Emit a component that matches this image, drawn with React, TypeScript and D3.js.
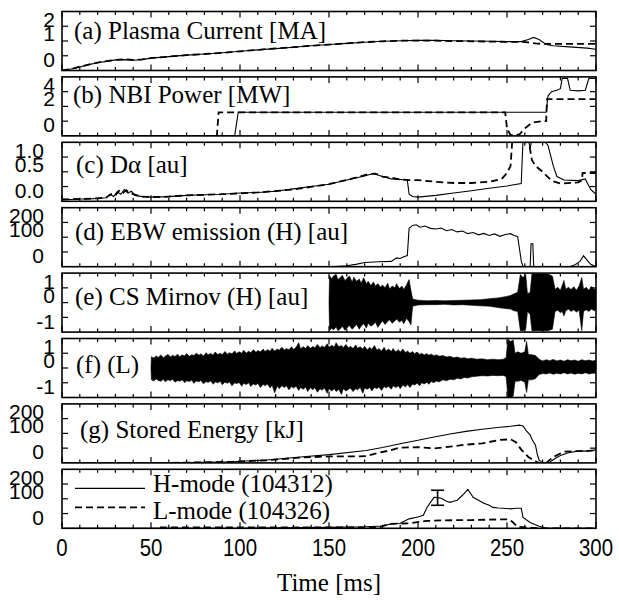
import React from 'react';
import * as d3 from 'd3';

// ---------- data ----------
const TIME_TICKS = [0, 50, 100, 150, 200, 250, 300];
const TIME_LABELS = ['0', '50', '100', '150', '200', '250', '300'];

// (a) Plasma current [MA]
const IP_H = [[0,0],[5,0.05],[10,0.12],[15,0.2],[20,0.26],[25,0.31],[30,0.36],[35,0.37],[40,0.35],[45,0.37],[50,0.42],[60,0.47],[70,0.52],[80,0.56],[90,0.6],[100,0.65],[110,0.7],[120,0.74],[130,0.79],[140,0.84],[150,0.88],[160,0.92],[170,0.96],[180,0.99],[190,1.01],[200,1.02],[210,1.02],[220,1.01],[230,1.0],[240,0.99],[250,0.98],[258,0.98],[262,1.05],[265,1.12],[268,1.05],[272,0.88],[276,0.84],[285,0.8],[295,0.76],[300,0.72]];
const IP_L = [[0,0],[5,0.05],[10,0.13],[15,0.2],[20,0.27],[25,0.32],[30,0.36],[35,0.38],[40,0.36],[45,0.38],[50,0.42],[60,0.47],[70,0.52],[80,0.56],[90,0.6],[100,0.65],[110,0.7],[120,0.75],[130,0.79],[140,0.84],[150,0.88],[160,0.92],[170,0.96],[180,0.99],[190,1.01],[200,1.01],[210,1.01],[220,1.0],[230,0.99],[240,0.98],[250,0.97],[258,0.97],[262,0.95],[266,0.92],[270,0.9],[300,0.9]];

// (b) NBI power [MW]
const NBI_H = [[0,0],[97,0],[99,1.6],[272,1.6],[273,2.7],[275,3.0],[278,3.1],[280,3.2],[281,3.9],[284,3.9],[285.5,3.1],[290,3.05],[294,3.1],[296,3.9],[300,3.9]];
const NBI_L = [[0,0],[87,0],[88,1.6],[249,1.6],[250,0.5],[252,0.05],[257,0.1],[260,0.5],[264,0.9],[270,1.0],[272,1.0],[272.5,2.5],[300,2.5]];

// (c) D-alpha [au]
const DA_H = [[0,0.04],[5,0.03],[10,0.04],[15,0.04],[20,0.05],[25,0.06],[27,0.12],[29,0.08],[31,0.16],[33,0.12],[35,0.2],[37,0.14],[39,0.17],[41,0.1],[45,0.08],[50,0.07],[60,0.08],[70,0.1],[80,0.11],[90,0.12],[100,0.14],[110,0.15],[120,0.17],[130,0.21],[140,0.25],[150,0.29],[160,0.36],[170,0.43],[175,0.47],[180,0.42],[185,0.38],[190,0.37],[194,0.36],[195,0.12],[197,0.08],[200,0.07],[210,0.1],[220,0.14],[230,0.18],[240,0.22],[250,0.26],[258,0.3],[259,1.05],[262,1.05],[263,0.9],[264,1.05],[270,1.05],[273,0.95],[276,0.6],[278,0.42],[282,0.36],[290,0.35],[294,0.38],[297,0.2],[300,0.12]];
const DA_L = [[0,0.03],[10,0.04],[20,0.05],[25,0.07],[28,0.13],[30,0.1],[32,0.18],[34,0.13],[36,0.19],[38,0.15],[40,0.12],[45,0.08],[55,0.07],[70,0.1],[90,0.12],[110,0.15],[130,0.2],[150,0.29],[165,0.4],[172,0.46],[176,0.47],[180,0.42],[185,0.4],[190,0.37],[195,0.36],[200,0.36],[210,0.33],[220,0.31],[230,0.31],[240,0.33],[247,0.38],[250,0.48],[252,0.6],[253,1.05],[255,1.05],[262,1.05],[264,0.7],[266,0.6],[270,0.5],[275,0.35],[280,0.3],[290,0.32],[292,0.35],[292.5,0.48],[300,0.48]];

// (d) EBW emission (H) [au]
const EBW_H = [[0,0],[150,0],[160,3],[165,8],[170,14],[178,17],[185,18],[188,30],[190,28],[192,34],[194,38],[195,130],[197,140],[199,142],[201,134],[204,138],[207,130],[210,128],[213,131],[216,122],[219,126],[222,118],[225,121],[228,112],[231,116],[234,108],[237,113],[240,106],[243,111],[246,103],[249,109],[252,112],[254,106],[256,102],[258,20],[259,0],[263,0],[263.5,78],[264.5,78],[265,0],[285,0],[288,6],[291,18],[293,37],[295,22],[297,8],[300,0]];

// (e) CS Mirnov (H): [time, upper envelope, lower envelope]
const MIR_H = [[150,0,0],[150.3,0.92,-0.95],[151.5,0.8,-0.86],[152.5,0.9,-0.93],[154,0.96,-0.82],[155,0.78,-0.95],[156.5,0.86,-0.88],[157.5,0.93,-0.8],[159,0.74,-0.94],[160,0.82,-0.86],[161.5,0.9,-0.78],[163,0.7,-0.9],[164,0.86,-0.84],[165.5,0.72,-0.74],[167,0.8,-0.9],[168,0.66,-0.8],[169.5,0.84,-0.72],[171,0.64,-0.86],[172,0.72,-0.7],[173.5,0.58,-0.8],[175,0.7,-0.74],[176,0.56,-0.66],[177.5,0.64,-0.84],[179,0.52,-0.7],[180,0.6,-0.62],[181.5,0.5,-0.74],[183,0.66,-0.64],[184,0.46,-0.58],[185.5,0.56,-0.7],[187,0.5,-0.62],[188,0.64,-0.56],[189.5,0.48,-0.66],[191,0.56,-0.6],[192,0.44,-0.72],[193.5,0.6,-0.54],[195,0.78,-0.64],[196,0.42,-0.76],[197,0.12,-0.12],[200,0.08,-0.08],[205,0.06,-0.07],[210,0.07,-0.07],[215,0.06,-0.06],[220,0.07,-0.08],[225,0.08,-0.07],[230,0.09,-0.09],[235,0.1,-0.11],[240,0.13,-0.12],[245,0.16,-0.17],[249,0.2,-0.2],[252,0.24,-0.22],[254,0.3,-0.28],[256,0.35,-0.3],[257.5,0.95,-0.95],[259,0.85,-0.95],[260.5,0.95,-0.9],[261.5,0.3,-0.3],[263,0.35,-0.4],[264,0.97,-0.95],[267,0.97,-0.95],[270,0.97,-0.95],[273,0.97,-0.95],[275.5,0.9,-0.9],[277,0.45,-0.3],[278.5,0.52,-0.26],[280,0.42,-0.34],[281,0.58,-0.3],[282,0.75,-0.45],[283,0.45,-0.28],[284.5,0.52,-0.22],[286,0.44,-0.3],[287.5,0.54,-0.24],[289,0.42,-0.32],[290.5,0.56,-0.26],[292,0.85,-0.95],[293,0.45,-0.3],[294.5,0.52,-0.24],[296,0.42,-0.3],[297.5,0.55,-0.22],[299,0.45,-0.28],[300,0.5,-0.25]];

// (f) Mirnov (L): [time, upper envelope, lower envelope]
const MIR_L = [[50,0,0],[50.2,0.38,-0.4],[51.5,0.34,-0.44],[53,0.41,-0.37],[54,0.36,-0.42],[55.5,0.44,-0.45],[57,0.35,-0.38],[58,0.4,-0.47],[59.5,0.46,-0.4],[61,0.37,-0.43],[62,0.43,-0.38],[63.5,0.39,-0.48],[65,0.47,-0.42],[66,0.38,-0.45],[67.5,0.44,-0.4],[69,0.41,-0.5],[70,0.49,-0.43],[71.5,0.4,-0.46],[73,0.45,-0.41],[74,0.42,-0.52],[75.5,0.5,-0.44],[77,0.43,-0.47],[78,0.48,-0.42],[79.5,0.41,-0.53],[81,0.52,-0.46],[82,0.45,-0.49],[83.5,0.49,-0.44],[85,0.44,-0.55],[86,0.54,-0.47],[87.5,0.46,-0.5],[89,0.5,-0.45],[90,0.45,-0.57],[91.5,0.56,-0.48],[93,0.47,-0.52],[94,0.52,-0.47],[95.5,0.48,-0.6],[97,0.58,-0.5],[98,0.49,-0.53],[99.5,0.55,-0.49],[101,0.5,-0.62],[102,0.6,-0.52],[103.5,0.51,-0.56],[105,0.57,-0.5],[106,0.52,-0.63],[107.5,0.62,-0.54],[109,0.53,-0.58],[110,0.59,-0.52],[111.5,0.55,-0.66],[113,0.64,-0.55],[114,0.56,-0.6],[115.5,0.62,-0.55],[117,0.57,-0.68],[118,0.67,-0.58],[119.5,0.58,-0.84],[121,0.64,-0.6],[122,0.6,-0.7],[123.5,0.7,-0.6],[125,0.61,-0.66],[126,0.66,-0.6],[127.5,0.62,-0.74],[129,0.72,-0.63],[130,0.63,-0.68],[131.5,0.7,-0.62],[133,0.86,-0.76],[134,0.65,-0.66],[135.5,0.72,-0.72],[137,0.66,-0.64],[138,0.76,-0.8],[139.5,0.67,-0.67],[141,0.73,-0.74],[142,0.68,-0.66],[143.5,0.8,-0.82],[145,0.69,-0.7],[146,0.75,-0.75],[147.5,0.7,-0.68],[149,0.82,-0.86],[150,0.7,-0.7],[151.5,0.77,-0.78],[153,0.71,-0.7],[154,0.86,-0.8],[155.5,0.72,-0.72],[157,0.76,-0.9],[158,0.69,-0.7],[159.5,0.8,-0.78],[161,0.68,-0.72],[162,0.74,-0.68],[163.5,0.66,-0.8],[165,0.78,-0.7],[166,0.67,-0.74],[167.5,0.72,-0.66],[169,0.64,-0.86],[170,0.74,-0.68],[171.5,0.62,-0.72],[173,0.7,-0.66],[174,0.63,-0.78],[175.5,0.76,-0.66],[177,0.6,-0.7],[178,0.66,-0.64],[179.5,0.58,-0.76],[181,0.7,-0.63],[182,0.58,-0.68],[183.5,0.64,-0.62],[185,0.56,-0.72],[186,0.66,-0.6],[187.5,0.55,-0.66],[189,0.62,-0.6],[190,0.54,-0.7],[191.5,0.64,-0.58],[193,0.52,-0.64],[194,0.58,-0.56],[195.5,0.5,-0.66],[197,0.56,-0.54],[198,0.48,-0.58],[199.5,0.54,-0.52],[201,0.46,-0.6],[202,0.5,-0.5],[203.5,0.44,-0.54],[205,0.49,-0.48],[206,0.43,-0.55],[207.5,0.47,-0.46],[209,0.41,-0.5],[210,0.45,-0.44],[212,0.4,-0.47],[214,0.42,-0.4],[216,0.37,-0.43],[218,0.4,-0.38],[220,0.35,-0.4],[222,0.37,-0.35],[224,0.33,-0.37],[226,0.35,-0.32],[228,0.31,-0.34],[230,0.33,-0.3],[233,0.3,-0.28],[236,0.31,-0.26],[239,0.28,-0.27],[242,0.3,-0.25],[245,0.28,-0.26],[248,0.3,-0.25],[249.5,0.35,-0.3],[250.5,0.97,-0.98],[252,0.9,-1.0],[253.5,0.95,-0.95],[254.5,0.5,-0.45],[256,0.55,-0.45],[258,0.5,-0.42],[260,0.55,-0.48],[261,0.9,-0.83],[262,0.46,-0.4],[264,0.45,-0.4],[266,0.42,-0.36],[268,0.3,-0.22],[270,0.24,-0.19],[272,0.28,-0.2],[274,0.25,-0.17],[276,0.29,-0.21],[278,0.24,-0.18],[280,0.27,-0.2],[282,0.23,-0.16],[284,0.28,-0.2],[286,0.25,-0.17],[288,0.27,-0.21],[290,0.23,-0.18],[292,0.28,-0.2],[294,0.25,-0.16],[296,0.27,-0.2],[298,0.24,-0.18],[300,0.26,-0.18]];

// (g) Stored energy [kJ]
const WMHD_H = [[0,0],[60,0],[80,2],[96,4],[115,10],[134,20],[150,28],[171,42],[180,52],[190,65],[200,77],[209,88],[218,98],[227,107],[236,114],[246,121],[252,124],[257,128],[259,125],[261,108],[263,95],[264,80],[266,60],[267,30],[268,10],[270,0],[274,2],[277,15],[280,25],[285,35],[290,40],[295,40],[300,44]];
const WMHD_L = [[0,0],[60,0],[80,2],[96,4],[115,9],[134,18],[150,22],[165,22],[171,23],[177,33],[184,42],[190,52],[200,53],[209,49],[218,55],[227,62],[236,66],[246,78],[252,80],[255,70],[258,45],[262,20],[266,5],[268,0],[272,0],[276,20],[282,38],[290,40],[300,42]];

// (h) unlabeled panel with legend
const PH_H = [[0,0],[100,0],[150,3],[170,5],[180,8],[185,15],[190,17],[195,32],[200,38],[203,44],[205,70],[207,88],[209,105],[211,104],[213,102],[216,92],[218,88],[220,92],[222,95],[225,112],[228,132],[231,105],[234,95],[237,85],[240,78],[242,71],[245,69],[248,68],[252,66],[255,68],[258,68],[259,37],[263,20],[268,7],[272,0],[300,0]];
const PH_L = [[55,3],[100,3],[150,3],[178,3],[184,15],[195,17],[205,25],[215,27],[230,28],[245,30],[251,30],[253,22],[256,5],[263,2],[268,0],[300,0]];
const ERRBAR = { t: 211, lo: 78, hi: 129 };

const LEGEND_LABELS = ['H-mode (104312)', 'L-mode (104326)'];

type Trace = { data: number[][]; dashed: boolean };
type Panel = {
  title: string;
  domain: [number, number];
  ticks: number[];
  labels: string[];
  lines: Trace[];
  env?: number[][];
  titleDy: number;
  titleX: number;
};

const PANELS: Panel[] = [
  { title: '(a) Plasma Current [MA]', domain: [0, 2], ticks: [0.5, 1, 1.5], labels: ['2', '1', '0'], lines: [{ data: IP_L, dashed: true }, { data: IP_H, dashed: false }], titleDy: 27, titleX: 74 },
  { title: '(b) NBI Power [MW]', domain: [0, 4], ticks: [1, 2, 3], labels: ['4', '2', '0'], lines: [{ data: NBI_L, dashed: true }, { data: NBI_H, dashed: false }], titleDy: 26, titleX: 73 },
  { title: '(c) D\u03b1 [au]', domain: [0, 1], ticks: [0.25, 0.5, 0.75], labels: ['1.0', '0.5', '0.0'], lines: [{ data: DA_L, dashed: true }, { data: DA_H, dashed: false }], titleDy: 30.5, titleX: 76 },
  { title: '(d) EBW emission (H) [au]', domain: [0, 200], ticks: [50, 100, 150], labels: ['200', '100', '0'], lines: [{ data: EBW_H, dashed: false }], titleDy: 32, titleX: 75 },
  { title: '(e) CS Mirnov (H) [au]', domain: [-1, 1], ticks: [-0.5, 0, 0.5], labels: ['1', '0', '-1'], lines: [], env: MIR_H, titleDy: 32, titleX: 75 },
  { title: '(f) (L)', domain: [-1, 1], ticks: [-0.5, 0, 0.5], labels: ['1', '0', '-1'], lines: [], env: MIR_L, titleDy: 34.5, titleX: 76 },
  { title: '(g) Stored Energy [kJ]', domain: [0, 200], ticks: [50, 100, 150], labels: ['200', '100', '0'], lines: [{ data: WMHD_L, dashed: true }, { data: WMHD_H, dashed: false }], titleDy: 34, titleX: 80 },
  { title: '', domain: [0, 200], ticks: [50, 100, 150], labels: ['200', '100', '0'], lines: [{ data: PH_L, dashed: true }, { data: PH_H, dashed: false }], titleDy: 0, titleX: 0 },
];

// ---------- layout ----------
const W = 619, H = 608;
const X0 = 62, X1 = 596;
const TOP0 = 11.5, STEP = 65.4, PH = 59;
const SANS = "'Liberation Sans', Arimo, Arial, Helvetica, sans-serif";
const SERIF = "'Liberation Serif', Tinos, 'Times New Roman', Times, serif";
const DASH = '7,4';
const SERIF_SIZE = 25;

const x = d3.scaleLinear().domain([0, 300]).range([X0, X1]);
const minorTicks = d3.range(0, 301, 10);

const sansStyle = { fontFamily: SANS } as React.CSSProperties;
const serifStyle = { fontFamily: SERIF } as React.CSSProperties;

function PanelView({ p, i }: { p: Panel; i: number }) {
  const top = TOP0 + i * STEP;
  const bottom = top + PH;
  const y = d3.scaleLinear().domain(p.domain).range([bottom, top]);
  const line = d3.line<number[]>().x(d => x(d[0])).y(d => y(d[1]));
  const area = d3.area<number[]>().x(d => x(d[0])).y0(d => y(d[2])).y1(d => y(d[1]));
  const clipId = `clip${i}`;
  const single = p.labels.every(l => l.replace('-', '').length === 1);
  const labelRight = single ? 55 : 44;
  const labelY = [top + 8, top + 22, bottom - 11];
  return (
    <g>
      <defs>
        <clipPath id={clipId}>
          <rect x={X0} y={top} width={X1 - X0} height={PH} />
        </clipPath>
      </defs>
      <g clipPath={`url(#${clipId})`}>
        {p.env && (
          <path d={area(p.env) || ''} fill="#000" stroke="#000" strokeWidth={0.6} />
        )}
        {p.lines.map((tr, k) => (
          <path key={k} d={line(tr.data) || ''} fill="none" stroke="#000"
            strokeWidth={tr.dashed ? 1.8 : 1.1} strokeDasharray={tr.dashed ? DASH : undefined} />
        ))}
      </g>
      {minorTicks.map(t => {
        const len = t % 50 === 0 ? 6 : 3.5;
        return (
          <g key={t}>
            <line x1={x(t)} x2={x(t)} y1={top} y2={top + len} stroke="#000" strokeWidth={1.2} />
            <line x1={x(t)} x2={x(t)} y1={bottom} y2={bottom - len} stroke="#000" strokeWidth={1.2} />
          </g>
        );
      })}
      {p.ticks.map(v => (
        <g key={v}>
          <line x1={X0} x2={X0 + 6} y1={y(v)} y2={y(v)} stroke="#000" strokeWidth={1.2} />
          <line x1={X1} x2={X1 - 6} y1={y(v)} y2={y(v)} stroke="#000" strokeWidth={1.2} />
        </g>
      ))}
      <rect x={X0} y={top} width={X1 - X0} height={PH} fill="none" stroke="#000" strokeWidth={1.6} />
      {p.labels.map((l, k) => (
        <text key={k} x={labelRight} y={labelY[k]} textAnchor="end" dominantBaseline="central"
          style={sansStyle} fontSize={21} fill="#000">{l}</text>
      ))}
      {p.title && (
        <text x={p.titleX} y={top + p.titleDy} style={serifStyle} fontSize={SERIF_SIZE} fill="#000">{p.title}</text>
      )}
    </g>
  );
}

export default function App() {
  const lastTop = TOP0 + 7 * STEP;
  const lastBottom = lastTop + PH;
  const yLast = d3.scaleLinear().domain(PANELS[7].domain).range([lastBottom, lastTop]);
  const ebX = x(ERRBAR.t);
  return (
    <svg width={W} height={H} style={{ position: 'absolute', left: 0, top: 0, background: '#fff' }}>
      <rect width={W} height={H} fill="#fff" />
      {PANELS.map((p, i) => <PanelView key={i} p={p} i={i} />)}
      <g stroke="#000" strokeWidth={1.6}>
        <line x1={ebX} x2={ebX} y1={yLast(ERRBAR.lo)} y2={yLast(ERRBAR.hi)} />
        <line x1={ebX - 6.5} x2={ebX + 6.5} y1={yLast(ERRBAR.lo)} y2={yLast(ERRBAR.lo)} />
        <line x1={ebX - 6.5} x2={ebX + 6.5} y1={yLast(ERRBAR.hi)} y2={yLast(ERRBAR.hi)} />
      </g>
      <line x1={75} x2={145} y1={lastTop + 19} y2={lastTop + 19} stroke="#000" strokeWidth={1.3} />
      <text x={153} y={lastTop + 23} style={serifStyle} fontSize={SERIF_SIZE} fill="#000">{LEGEND_LABELS[0]}</text>
      <line x1={75} x2={145} y1={lastTop + 38} y2={lastTop + 38} stroke="#000" strokeWidth={1.8} strokeDasharray={DASH} />
      <text x={153} y={lastTop + 50} style={serifStyle} fontSize={SERIF_SIZE} fill="#000">{LEGEND_LABELS[1]}</text>
      {TIME_TICKS.map((t, k) => (
        <text key={t} transform={`translate(${x(t)},548) scale(0.85,1)`} textAnchor="middle" dominantBaseline="central"
          style={sansStyle} fontSize={24} fill="#000">{TIME_LABELS[k]}</text>
      ))}
      <text x={(X0 + X1) / 2} y={591} textAnchor="middle" style={serifStyle} fontSize={SERIF_SIZE} fill="#000">Time [ms]</text>
    </svg>
  );
}
